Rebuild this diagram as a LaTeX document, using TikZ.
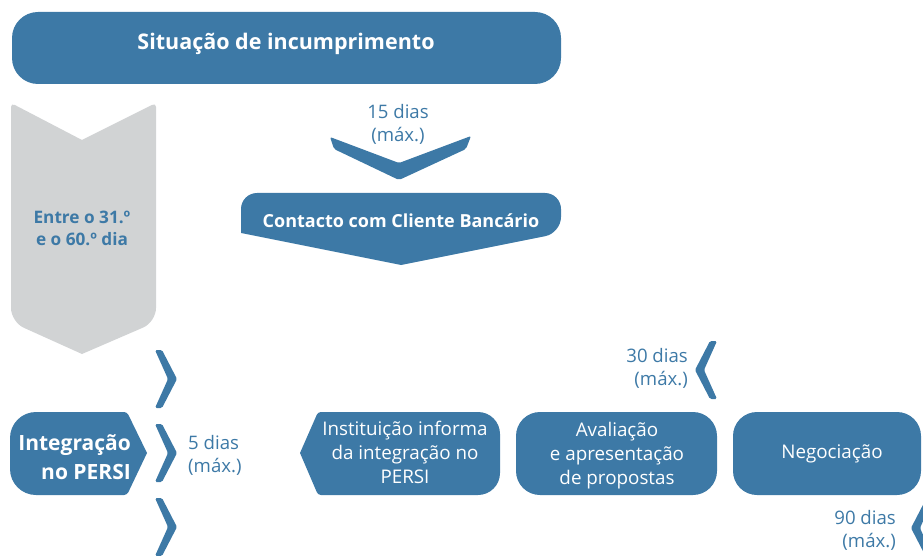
\documentclass[tikz,border=0pt]{standalone}
\usepackage{fontspec}
\setmainfont{Open Sans}
\definecolor{bblue}{RGB}{61,121,166}
\definecolor{lgrey}{RGB}{209,211,212}
\tikzset{
  box/.style={fill=bblue},
  wtxt/.style={text=white, align=center, inner sep=0pt, font=\fontsize{18.8}{24}\selectfont},
  wbold/.style={text=white, align=center, inner sep=0pt, font=\bfseries\fontsize{18}{22}\selectfont},
  btxt/.style={text=bblue, inner sep=0pt, font=\fontsize{18.6}{23}\selectfont},
  rchev/.pic={\fill[bblue, rounded corners=1.5pt] (-22,-29) -- (-15,-29) -- (0,0) -- (-15,29) -- (-22,29) -- (-9,0) -- cycle;},
  lchev/.pic={\fill[bblue, rounded corners=1.5pt] (22,-29) -- (15,-29) -- (0,0) -- (15,29) -- (22,29) -- (9,0) -- cycle;}
}
\begin{document}
\begin{tikzpicture}[x=1pt,y=-1pt]
\useasboundingbox (0,0) rectangle (923,556);
% top box
\fill[box, rounded corners=26] (12,12) rectangle (561,84);
\node[wbold, font=\bfseries\fontsize{21.5}{24}\selectfont] (title) at (286,44) {Situação de incumprimento};
% grey arrow
\fill[lgrey] (82,140) [rounded corners=4]-- (156,103) [rounded corners=14]-- (156,322) [sharp corners]-- (82,354) [rounded corners=14]-- (11,322) [rounded corners=4]-- (11,103) [sharp corners]-- cycle;
\node[btxt, align=center, font=\bfseries\fontsize{17.2}{22}\selectfont] (entre) at (82,228) {Entre o 31.º\\e o 60.º dia};
% 15 dias chevron
\node[btxt, align=center] (d15) at (398,124) {15 dias\\(máx.)};
\fill[bblue, rounded corners=2] (330,137) -- (399,163) -- (471,136) -- (466,149) -- (399,180) -- (334,149) -- cycle;
% contact box
\fill[box, rounded corners=16] (401,265) [sharp corners]-- (241,233) [rounded corners=16]-- (241,193) -- (561,193) -- (561,233) [sharp corners]-- cycle;
\node[wbold] (contacto) at (401,221) {Contacto com Cliente Bancário};
% right chevrons
\pic at (177,379) {rchev};
\pic at (177,453) {rchev};
\pic at (177,527) {rchev};
% integracao
\fill[box, rounded corners=26] (147,453) [rounded corners=3]-- (127,412) [rounded corners=26]-- (10,412) -- (10,495) [rounded corners=3]-- (127,495) [sharp corners]-- cycle;
\node[wtxt, align=right, font=\bfseries\fontsize{21}{29}\selectfont, anchor=east] (integ) at (131,457) {Integração\\no PERSI};
\node[btxt, align=left, anchor=west] (d5) at (188,455) {5 dias\\(máx.)};
% instituicao
\fill[box, rounded corners=22] (300,453) [rounded corners=3]-- (318,412) [rounded corners=22]-- (500,412) -- (500,495) [rounded corners=3]-- (318,495) [sharp corners]-- cycle;
\node[wtxt] (inst) at (405,452) {Instituição informa\\da integração no\\PERSI};
% avaliacao
\fill[box, rounded corners=24] (516,412) rectangle (717,495);
\node[wtxt] (aval) at (617,456) {Avaliação\\e apresentação\\de propostas};
% negociacao
\fill[box, rounded corners=24] (733,412) rectangle (921,495);
\node[wtxt] (neg) at (832,454) {Negociação};
% 30 dias
\node[btxt, align=right, anchor=east] (d30) at (688,368) {30 dias\\(máx.)};
\pic at (695,370) {lchev};
% 90 dias
\node[btxt, align=right, anchor=east] (d90) at (896,530) {90 dias\\(máx.)};
\pic at (911,528) {lchev};
\end{tikzpicture}
\end{document}
